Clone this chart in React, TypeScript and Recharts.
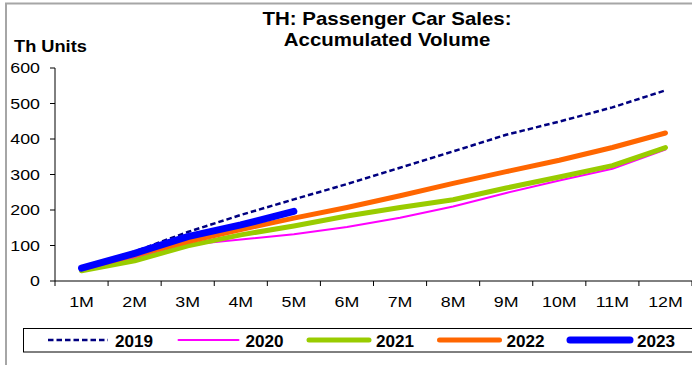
import { LineChart, Line, XAxis, YAxis } from "recharts";

// Accumulated passenger car sales, thousand units
const months = ["1M", "2M", "3M", "4M", "5M", "6M", "7M", "8M", "9M", "10M", "11M", "12M"];
const years = ["2019", "2020", "2021", "2022", "2023"];

const sales2019 = [35, 83, 138, 186, 230, 273, 319, 365, 412, 449, 489, 537];
const sales2020 = [30, 65, 102, 117, 132, 152, 178, 210, 248, 283, 316, 370];
const sales2021 = [29, 57, 99, 130, 155, 183, 207, 229, 262, 293, 325, 376];
const sales2022 = [34, 73, 111, 145, 177, 207, 240, 275, 308, 340, 376, 417];
const sales2023 = [36, 78, 125, 158, 196];

const yTicks = [0, 100, 200, 300, 400, 500, 600];

const salesByYear: Record<string, number[]> = {
  "2019": sales2019,
  "2020": sales2020,
  "2021": sales2021,
  "2022": sales2022,
  "2023": sales2023,
};

const lineStyle: Record<string, { color: string; width: number; dash?: string }> = {
  "2019": { color: "#000080", width: 2.5, dash: "5.5 3" },
  "2020": { color: "#ff00ff", width: 2 },
  "2021": { color: "#99cc00", width: 5 },
  "2022": { color: "#ff6600", width: 5 },
  "2023": { color: "#0000ff", width: 7 },
};

const chartData = months.map((m, i) => {
  const row: Record<string, number | string | undefined> = { idx: i + 1, month: m };
  years.forEach((y) => {
    row["y" + y] = salesByYear[y][i];
  });
  return row;
});

// ticks sit on the category boundaries, labels go in the middle of each band
const boundaries = [...months.map((_, i) => i + 0.5), months.length + 0.5];

const W = 692;
const H = 365;
const PLOT_LEFT = 55;
const PLOT_TOP = 68;
const PLOT_BOTTOM = 281;
const BAND = (W - PLOT_LEFT) / months.length;
const FONT = "Arial, 'Liberation Sans', sans-serif";

function MonthTick(props: any) {
  const { x, y, payload } = props;
  const i = Math.round(payload.value - 0.5);
  if (i < 0 || i >= months.length) return <g />;
  return (
    <text
      transform={`translate(${x + BAND / 2},${y + 18.5}) scale(1.27,1)`}
      textAnchor="middle"
      fontSize={14}
      fontFamily={FONT}
      fill="#000"
    >
      {months[i]}
    </text>
  );
}

function ValueTick(props: any) {
  const { x, y, payload } = props;
  return (
    <text
      transform={`translate(${x - 8},${y + 5}) scale(1.27,1)`}
      textAnchor="end"
      fontSize={14}
      fontFamily={FONT}
      fill="#000"
    >
      {payload.value}
    </text>
  );
}

function Overlay() {
  return (
    <svg
      width={W}
      height={H}
      style={{ position: "absolute", left: 0, top: 0, pointerEvents: "none" }}
    >
      {/* outer frame */}
      <line x1={5} y1={3.5} x2={W} y2={3.5} stroke="#a6a6a6" strokeWidth={2} />
      <line x1={6} y1={3} x2={6} y2={H} stroke="#a6a6a6" strokeWidth={2} />

      <g fontFamily={FONT} fontWeight="bold" fill="#000">
        <text transform="translate(387,25) scale(1.17,1)" textAnchor="middle" fontSize={17.5}>
          TH: Passenger Car Sales:
        </text>
        <text transform="translate(387,46) scale(1.17,1)" textAnchor="middle" fontSize={17.5}>
          Accumulated Volume
        </text>
        <text transform="translate(14,51.5) scale(1.14,1)" fontSize={16}>
          Th Units
        </text>
      </g>

      {/* legend */}
      <rect x={23.5} y={328.5} width={700} height={23.5} fill="#fff" stroke="#000" strokeWidth={1} />
      {years.map((y, i) => {
        const s = lineStyle[y];
        const x0 = 48 + i * 130.5;
        return (
          <g key={y}>
            <line
              x1={x0}
              y1={340}
              x2={x0 + 60}
              y2={340}
              stroke={s.color}
              strokeWidth={s.width}
              strokeDasharray={s.dash}
              strokeLinecap={s.dash ? "butt" : "round"}
            />
            <text
              transform={`translate(${x0 + 67},346.5) scale(1.07,1)`}
              fontFamily={FONT}
              fontWeight="bold"
              fontSize={16}
              fill="#000"
            >
              {y}
            </text>
          </g>
        );
      })}
    </svg>
  );
}

export default function App() {
  return (
    <div
      style={{
        position: "absolute",
        left: 0,
        top: 0,
        width: W,
        height: H,
        background: "#fff",
        overflow: "hidden",
      }}
    >
      <LineChart
        width={W}
        height={H}
        data={chartData}
        margin={{ top: PLOT_TOP, right: 0, left: 0, bottom: H - PLOT_BOTTOM - 30 }}
      >
        <XAxis
          type="number"
          dataKey="idx"
          domain={[0.5, months.length + 0.5]}
          ticks={boundaries}
          interval={0}
          height={30}
          tickSize={5}
          tick={<MonthTick />}
          axisLine={{ stroke: "#000" }}
          tickLine={{ stroke: "#000" }}
          allowDecimals
        />
        <YAxis
          domain={[0, 600]}
          ticks={yTicks}
          interval={0}
          width={PLOT_LEFT}
          tickSize={5}
          tick={<ValueTick />}
          axisLine={{ stroke: "#000" }}
          tickLine={{ stroke: "#000" }}
        />
        {years.map((y) => {
          const s = lineStyle[y];
          return (
            <Line
              key={y}
              type="linear"
              dataKey={"y" + y}
              name={y}
              stroke={s.color}
              strokeWidth={s.width}
              strokeDasharray={s.dash}
              strokeLinecap={s.dash ? "butt" : "round"}
              strokeLinejoin="round"
              dot={false}
              activeDot={false}
              isAnimationActive={false}
            />
          );
        })}
      </LineChart>
      <Overlay />
    </div>
  );
}
